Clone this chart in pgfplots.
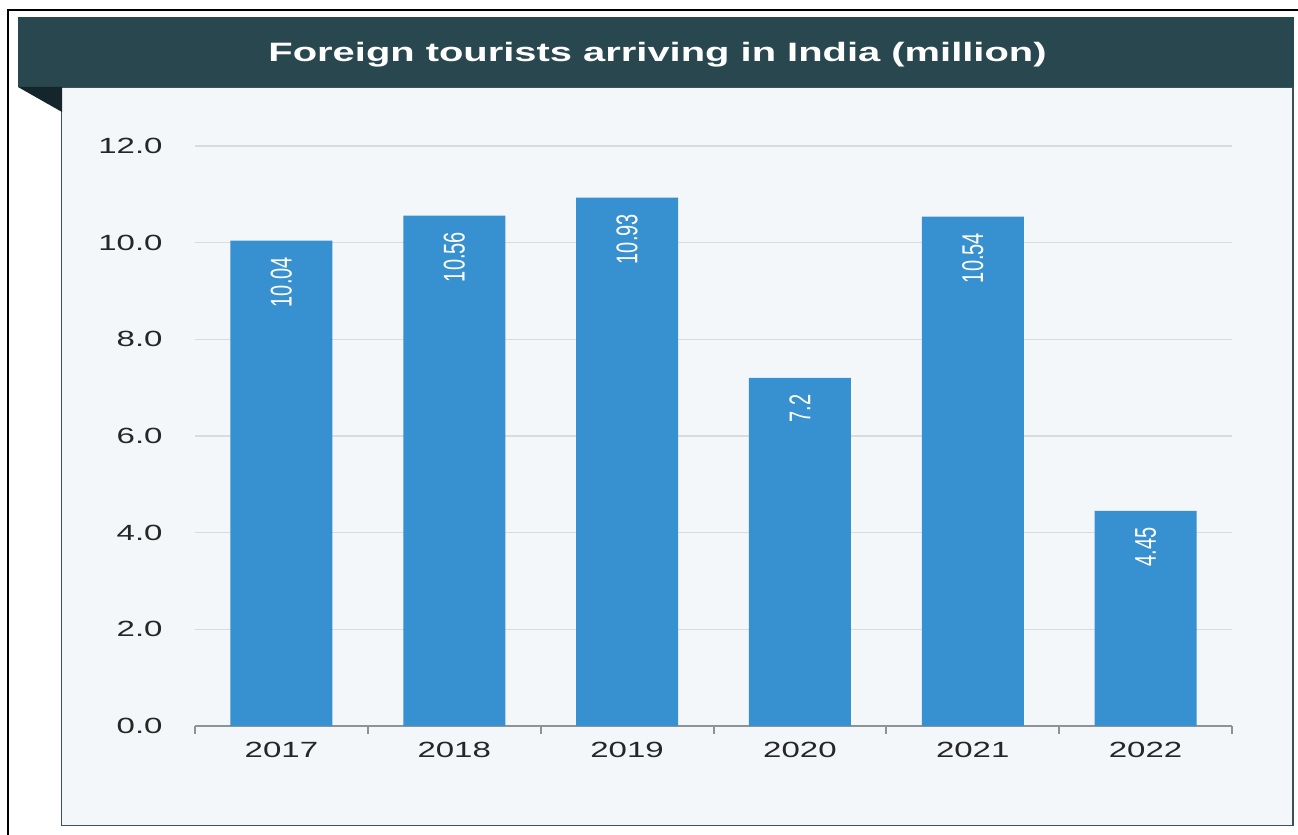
\documentclass[border=0pt]{standalone}
\usepackage{fontspec}
\setmainfont{Liberation Sans}
\newfontfamily\widefont[FakeStretch=1.5]{Liberation Sans}
\usepackage{pgfplots}
\pgfplotsset{compat=1.18}
\definecolor{banner}{HTML}{28474F}
\definecolor{fold}{HTML}{14262B}
\definecolor{panel}{HTML}{F4F7F9}
\definecolor{panelborder}{HTML}{3E5157}
\definecolor{barc}{HTML}{3790CF}
\definecolor{gridc}{HTML}{D9DCDF}
\definecolor{ticktext}{HTML}{262626}
\definecolor{axisc}{HTML}{8E9396}
\begin{document}
\begin{tikzpicture}
\useasboundingbox (0pt,0pt) rectangle (649pt,417.5pt);
\fill[white] (0pt,0pt) rectangle (649pt,417.5pt);
\draw[black, line width=1.3pt] (4pt,-2pt) -- (4pt,412.5pt) -- (652pt,412.5pt);
\filldraw[fill=panel, draw=panelborder, line width=0.8pt] (30.75pt,4.75pt) rectangle (646.5pt,374pt);
\fill[banner] (9pt,374pt) rectangle (647pt,409pt);
\fill[fold] (9pt,374pt) -- (31pt,374pt) -- (31pt,361.5pt) -- cycle;
\node[white, inner sep=0pt, font=\widefont\bfseries\fontsize{13.3}{16}\selectfont] at (328.75pt,390pt) {Foreign tourists arriving in India (million)};
\begin{axis}[
  at={(97.5pt,54.5pt)}, anchor=south west,
  scale only axis, width=518.5pt, height=290pt,
  xmin=-0.5, xmax=5.5, ymin=0, ymax=12,
  axis x line=bottom, axis y line=left,
  x axis line style={-, draw=axisc, line width=1pt},
  y axis line style={draw=none},
  xtick={0,1,2,3,4,5},
  xticklabels={2017,2018,2019,2020,2021,2022},
  minor xtick={-0.5,0.5,1.5,2.5,3.5,4.5,5.5},
  major tick length=0pt, minor tick length=4pt,
  xtick align=outside,
  minor x tick style={draw=axisc, line width=1pt},
  ytick={0,2,4,6,8,10,12},
  ymajorgrids, grid style={draw=gridc, line width=0.7pt},
  tick label style={font=\widefont\fontsize{11}{13}\selectfont, text=ticktext, inner sep=0pt, /pgf/number format/assume math mode=true},
  yticklabel style={anchor=east, xshift=-16pt, /pgf/number format/.cd, fixed, zerofill, precision=1},
  xticklabel style={anchor=north, yshift=-8pt},
  clip=false,
]
\addplot[ybar, fill=barc, draw=none, bar width=51pt,
  nodes near coords={\scalebox{1}[1.5]{\pgfmathprintnumber{\pgfplotspointmeta}}},
  every node near coord/.append style={rotate=90, anchor=east, text=white, inner xsep=8pt, inner ysep=0pt,
    font=\fontsize{10}{12}\selectfont, /pgf/number format/assume math mode=true}]
  coordinates {(0,10.04) (1,10.56) (2,10.93) (3,7.2) (4,10.54) (5,4.45)};
\end{axis}
\end{tikzpicture}
\end{document}
